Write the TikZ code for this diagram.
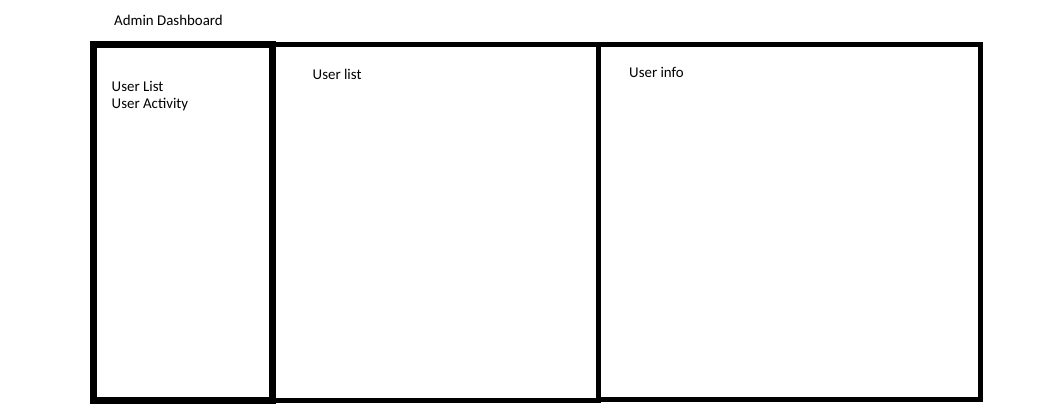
\documentclass[tikz,border=0pt]{standalone}
\usepackage{fontspec}
\setmainfont{Carlito}
\begin{document}
\begin{tikzpicture}[x=1pt,y=-1pt,
  panel/.style={draw=black,line width=5pt,inner sep=0pt,minimum width=#1},
  lbl/.style={anchor=base west,inner sep=0pt,font=\fontsize{14.9}{17}\selectfont}]
\useasboundingbox[fill=white] (0,0) rectangle (1058,411);
\node[panel=382pt,minimum height=355pt] (info) at (789,222) {};
\node[panel=326pt,minimum height=356pt] (list) at (435,222.5) {};
\node[panel=179pt,minimum height=356pt,line width=7pt] (menu) at (182.5,223) {};
\node[lbl] (title) at (114,26) {Admin Dashboard};
\node[lbl] (m1) at (111.5,92) {User List};
\node[lbl] (m2) at (111.5,109) {User Activity};
\node[lbl] (lt) at (312.5,80) {User list};
\node[lbl] (it) at (629,78) {User info};
\end{tikzpicture}
\end{document}
